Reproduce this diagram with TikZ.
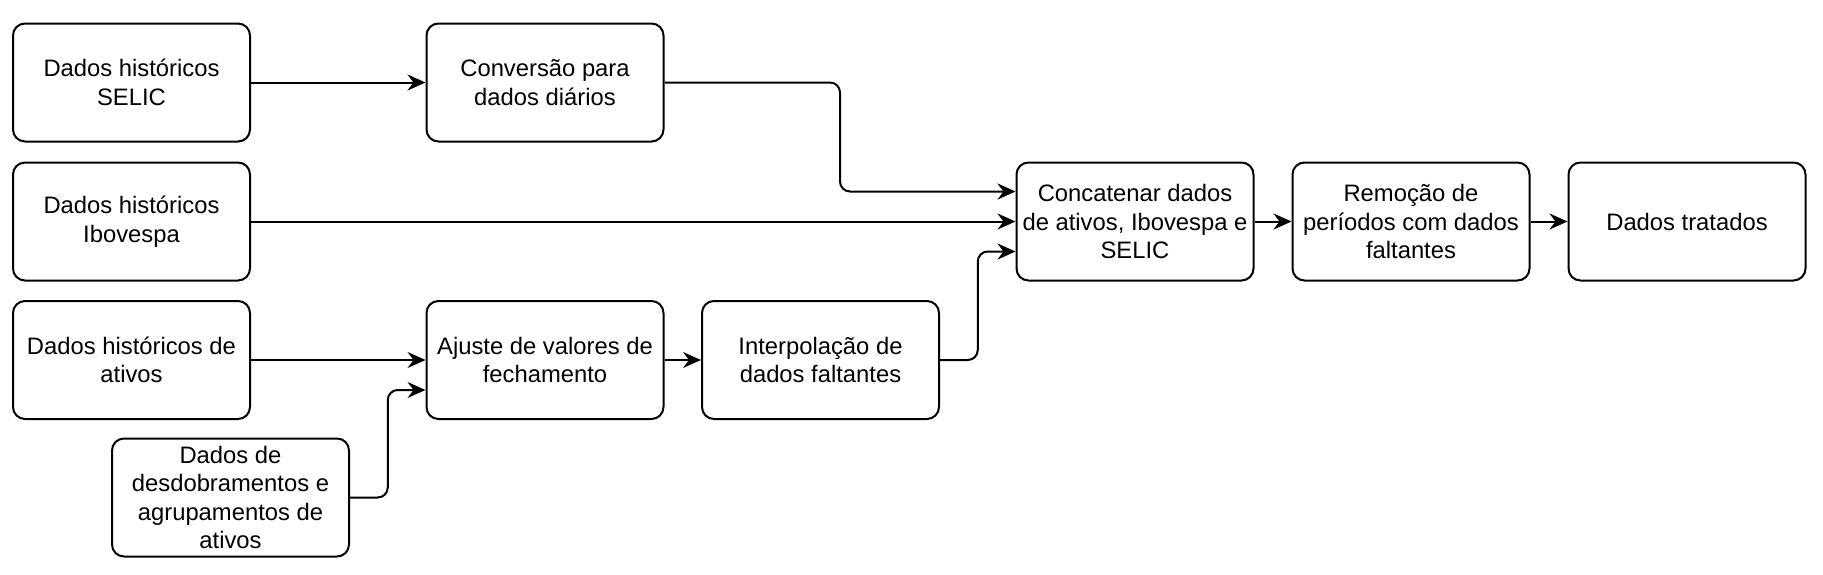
\documentclass[tikz,border=0pt]{standalone}
\usepackage{fontspec}
\setmainfont{Liberation Sans}
\usetikzlibrary{arrows.meta,calc}
\tikzset{
  box/.style={draw, line width=2pt, rounded corners=12pt, minimum width=237pt, minimum height=118pt,
    inner sep=0pt, align=center, font=\fontsize{23.8}{28.4}\selectfont},
  arr/.style={line width=2pt, rounded corners=10pt, -{Stealth[length=18pt,width=16pt,inset=6pt]}}
}
\begin{document}
\begin{tikzpicture}[x=1pt,y=-1pt]
\useasboundingbox (0,0) rectangle (1823,574);
\node[box] (A) at (131.5,82.5) {Dados históricos\\SELIC};
\node[box] (B) at (545,82.5) {Conversão para\\dados diários};
\node[box] (C) at (131.5,221.5) {Dados históricos\\Ibovespa};
\node[box] (D) at (1135,221.5) {Concatenar dados\\de ativos, Ibovespa e\\SELIC};
\node[box] (E) at (1411,221.5) {Remoção de\\períodos com dados\\faltantes};
\node[box] (F) at (1687,221.5) {Dados tratados};
\node[box] (G) at (131.5,360) {Dados históricos de\\ativos};
\node[box] (H) at (545,360) {Ajuste de valores de\\fechamento};
\node[box] (I) at (820.5,360) {Interpolação de\\dados faltantes};
\node[box] (J) at (230.5,497.5) {Dados de\\desdobramentos e\\agrupamentos de\\ativos};
\coordinate (m1) at ($(B.east)!0.5!(D.west)$);
\coordinate (m2) at ($(I.east)!0.5!(D.west)$);
\coordinate (m3) at ($(J.east)!0.5!(H.west)$);
\draw[arr] (A) -- (B);
\draw[arr] (B.east) -| (m1) |- ([yshift=30pt]D.west);
\draw[arr] (C) -- (D);
\draw[arr] (I.east) -| (m2) |- ([yshift=-30pt]D.west);
\draw[arr] (G) -- (H);
\draw[arr] (J.east) -| (m3) |- ([yshift=-30pt]H.west);
\draw[arr] (H) -- (I);
\draw[arr] (D) -- (E);
\draw[arr] (E) -- (F);
\end{tikzpicture}
\end{document}
